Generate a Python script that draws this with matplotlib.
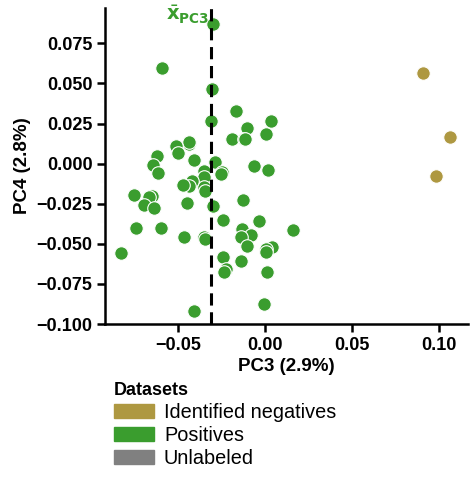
import matplotlib
matplotlib.use("Agg")
from matplotlib import pyplot as plt
from matplotlib.patches import Patch
import numpy as np

plt.rcParams['font.family'] = ['Liberation Sans', 'DejaVu Sans']

# PC3 / PC4 scores
pos_pc3 = [-0.0297, -0.059, -0.0303, -0.0165, 0.0036, -0.0309, -0.0103, 0.0006,
           -0.0188, -0.0119, -0.0115, -0.0435, -0.0435, -0.051, -0.0498, -0.0619,
           -0.0406, -0.0287, -0.0642, -0.0063, 0.0019, -0.0349, -0.0245, -0.0255,
           -0.0613, -0.0349, -0.0349, -0.0345, -0.0421, -0.0435, -0.047, -0.0751,
           -0.0648, -0.0665, -0.0695, -0.0638, -0.0447, -0.0297, -0.0126, -0.024,
           -0.0033, -0.074, -0.0598, -0.013, 0.0163, -0.0079, -0.0136, -0.0464,
           -0.0349, -0.0345, -0.0102, 0.004, 0.0004, 0.0004, -0.0828, -0.0243,
           -0.0136, -0.0222, -0.0237, 0.0013, -0.0006, -0.0406]
pos_pc4 = [0.0869, 0.0598, 0.0467, 0.0325, 0.0267, 0.0263, 0.0219, 0.0186,
           0.0156, 0.0156, 0.0156, 0.0123, 0.0135, 0.0108, 0.0069, 0.0046,
           0.0025, 0.0013, -0.0010, -0.0017, -0.0039, -0.0045, -0.0052, -0.0062,
           -0.0058, -0.0085, -0.0148, -0.0169, -0.0110, -0.0138, -0.0131, -0.0194,
           -0.0200, -0.0206, -0.0258, -0.0275, -0.0244, -0.0265, -0.0225, -0.0352,
           -0.0358, -0.0400, -0.0400, -0.0410, -0.0415, -0.0444, -0.0460, -0.0456,
           -0.0456, -0.0470, -0.0514, -0.0519, -0.0533, -0.0548, -0.0558, -0.0585,
           -0.0606, -0.0654, -0.0675, -0.0675, -0.0877, -0.0921]
neg_pc3 = [0.0908, 0.1063, 0.0983]
neg_pc4 = [0.0563, 0.0163, -0.0075]

labels = ['Identified negatives', 'Positives', 'Unlabeled']
colors = ['#ae9841', '#3a9d2e', '#808080']

xticks = [-0.05, 0.00, 0.05, 0.10]
yticks = [0.075, 0.050, 0.025, 0.000, -0.025, -0.050, -0.075, -0.100]

fig = plt.figure(figsize=(4.76, 4.78), dpi=100)
ax = fig.add_axes([0.2206, 0.322, 0.7624, 0.661])

ax.scatter(pos_pc3, pos_pc4, s=95, c=colors[1], edgecolors='white', linewidths=0.8, zorder=2)
ax.scatter(neg_pc3, neg_pc4, s=95, c=colors[0], edgecolors='white', linewidths=0.8, zorder=2)

mean_pc3 = -0.031
ax.axvline(mean_pc3, color='black', ls='--', lw=2.2, dashes=(4, 2.2), zorder=3)
ax.text(mean_pc3 - 0.001, 0.0925, r'$\bar{\mathbf{x}}_{\mathbf{PC3}}$', color=colors[1],
        ha='right', va='center', fontsize=14, fontweight='bold', family='DejaVu Sans')

ax.set_xlim(-0.092, 0.1167)
ax.set_ylim(-0.100, 0.0969)
ax.set_xticks(xticks)
ax.set_xticklabels(['\u22120.05', '0.00', '0.05', '0.10'])
ax.set_yticks(yticks)
ax.set_yticklabels([('\u2212' if v < 0 else '') + '%.3f' % abs(v) for v in yticks])
for lab in ax.get_xticklabels() + ax.get_yticklabels():
    lab.set_fontweight('bold')
    lab.set_fontsize(13)
ax.tick_params(width=1.8, length=6, pad=3)
for side in ['top', 'right']:
    ax.spines[side].set_visible(False)
for side in ['left', 'bottom']:
    ax.spines[side].set_linewidth(1.8)

ax.set_xlabel('PC3 (2.9%)', fontsize=13.5, fontweight='bold', labelpad=3)
ax.set_ylabel('PC4 (2.8%)', fontsize=13.5, fontweight='bold', labelpad=4)

handles = [Patch(color=c, label=l) for c, l in zip(colors, labels)]
leg = fig.legend(handles=handles, title='Datasets', loc='upper left',
                 bbox_to_anchor=(0.24, 0.20), frameon=False, fontsize=14.3,
                 title_fontproperties={'weight': 'bold', 'size': 13},
                 handlelength=2.0, handleheight=0.7, handletextpad=0.5,
                 labelspacing=0.2, borderpad=0, borderaxespad=0)
leg._legend_box.align = 'left'

fig.savefig('out.png', dpi=100)
